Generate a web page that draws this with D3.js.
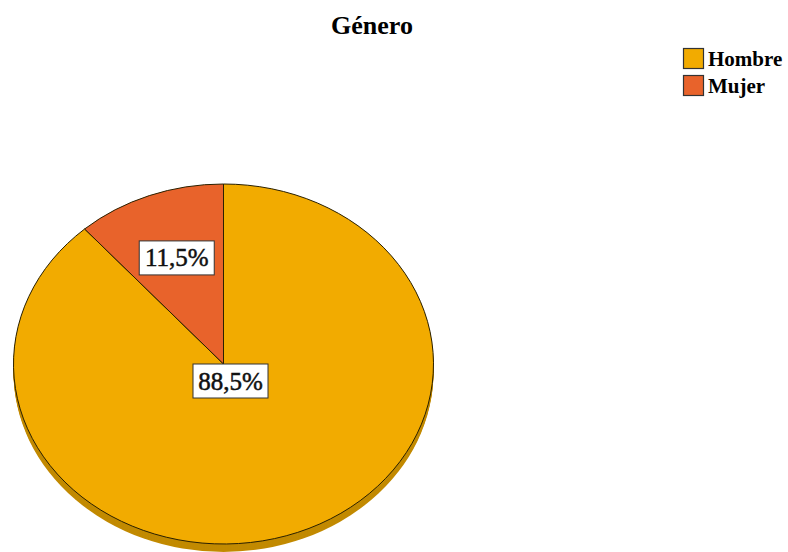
<!DOCTYPE html>
<html>
<head>
<meta charset="utf-8">
<script src="https://cdn.jsdelivr.net/npm/d3@7"></script>
<style>
  body { margin: 0; background: #fff; }
  text { font-family: "Liberation Serif", "DejaVu Serif", serif; }
</style>
</head>
<body>
<svg id="chart" width="788" height="552"></svg>
<script>
var categories = ['Hombre', 'Mujer'];
var percents = [88.5, 11.5];
var labels = ['88,5%', '11,5%'];
var colors = ['#f2ab00', '#e8632b'];
var sideColors = ['#c28a00', '#b84d20'];

var cx = 223.5, cy = 364, rx = 210, ry = 180, depth = 8;

var svg = d3.select('#chart');

svg.append('text')
  .attr('x', 372)
  .attr('y', 34)
  .attr('text-anchor', 'middle')
  .style('font-size', '26px')
  .style('font-weight', 'bold')
  .text('Género');

var pie = d3.pie().sort(null).value(d => d.value);
var slices = pie(categories.map((c, i) => ({ name: c, value: percents[i], i: i })));

var arc = d3.arc().innerRadius(0).outerRadius(ry);

// side (depth) of the pie
for (var k = depth; k > 0; k--) {
  svg.append('ellipse')
    .attr('cx', cx).attr('cy', cy + k)
    .attr('rx', rx).attr('ry', ry)
    .style('fill', sideColors[0]);
}

// top face
var face = svg.append('g')
  .attr('transform', 'translate(' + cx + ',' + cy + ') scale(' + (rx / ry) + ',1)');
face.selectAll('path')
  .data(slices)
  .enter().append('path')
  .attr('d', arc)
  .style('fill', s => colors[s.data.i])
  .style('stroke', '#2a2000')
  .style('stroke-width', 1)
  .attr('vector-effect', 'non-scaling-stroke');

// labels
var labelG = svg.append('g');
slices.forEach(function(s) {
  var x, y;
  if (s.data.value > 50) {
    x = cx + 7;
    y = cy + 17;
  } else {
    var a = (s.startAngle + s.endAngle) / 2;
    x = cx + 0.63 * rx * Math.sin(a);
    y = cy - 0.63 * ry * Math.cos(a);
  }
  var g = labelG.append('g').attr('transform', 'translate(' + x + ',' + y + ')');
  g.append('rect')
    .attr('x', -37.5)
    .attr('y', -17)
    .attr('width', 75)
    .attr('height', 34)
    .style('fill', '#fff')
    .style('stroke', '#333')
    .style('stroke-width', 1);
  g.append('text')
    .attr('text-anchor', 'middle')
    .attr('dy', '0.34em')
    .style('font-size', '25px')
    .style('fill', '#111')
    .style('stroke', '#111')
    .style('stroke-width', 0.5)
    .text(labels[s.data.i]);
});

// legend
var legend = svg.append('g').attr('transform', 'translate(683,48)');
var item = legend.selectAll('g')
  .data(categories)
  .enter().append('g')
  .attr('transform', (c, i) => 'translate(0,' + i * 27 + ')');
item.append('rect')
  .attr('x', 0.5).attr('y', 0.5)
  .attr('width', 20).attr('height', 20)
  .style('fill', (c, i) => colors[i])
  .style('stroke', '#333')
  .style('stroke-width', 1.2);
item.append('text')
  .attr('x', 25)
  .attr('y', 18)
  .style('font-size', '21px')
  .style('font-weight', 'bold')
  .text(c => c);
</script>
</body>
</html>
